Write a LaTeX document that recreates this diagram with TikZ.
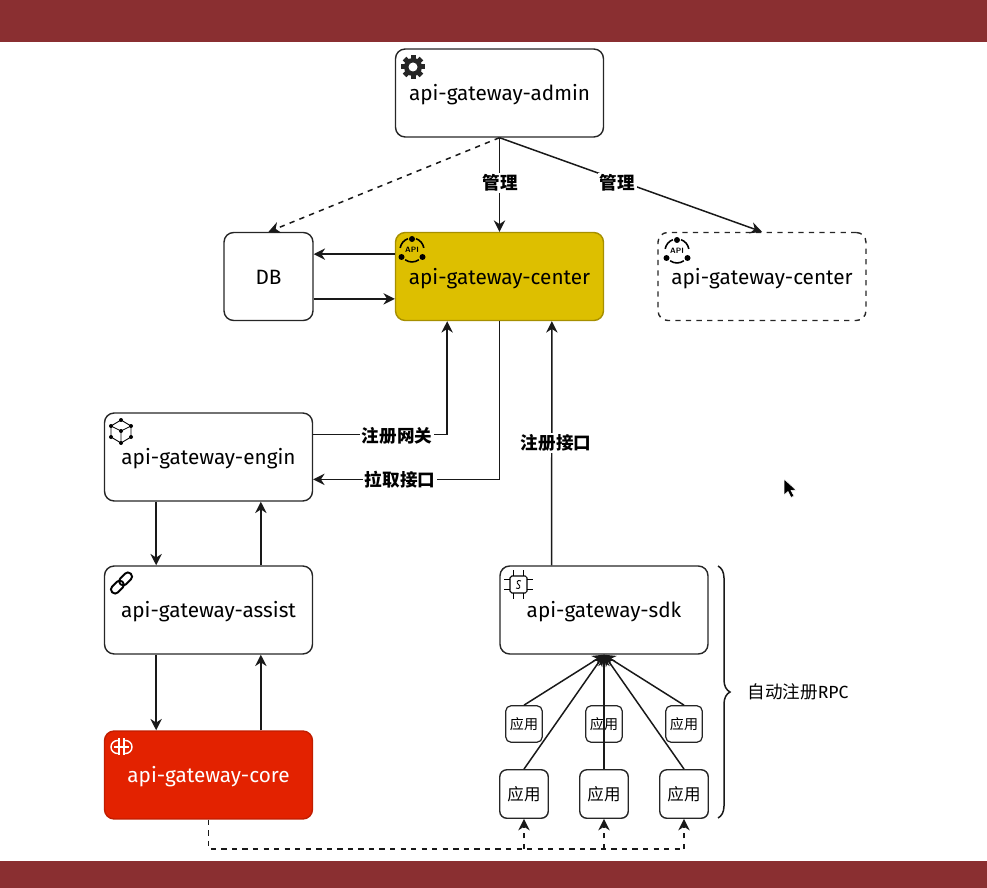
\documentclass[tikz,border=0pt]{standalone}
\usepackage{fontspec}
\usepackage{amsmath}
\setmainfont{Fira Sans}
\newfontfamily\cjk{Noto Sans CJK SC}
\usetikzlibrary{arrows.meta,calc,decorations.pathreplacing}

\definecolor{barred}{HTML}{8A2F31}
\definecolor{centeryellow}{HTML}{DDBF00}
\definecolor{coreorange}{HTML}{E32200}

\tikzset{
  box/.style={draw=black!85, line width=0.8pt, rounded corners=5.5pt, minimum width=4.16cm, minimum height=1.76cm, inner sep=0pt, text height=12pt, text depth=3pt, font=\fontsize{11.8}{13}\selectfont},
  dbbox/.style={box, minimum width=1.78cm},
  smallapp/.style={draw=black!85, line width=0.7pt, rounded corners=3pt, minimum width=0.73cm, minimum height=0.73cm, inner sep=0pt, font=\cjk\fontsize{8}{9}\selectfont},
  largeapp/.style={draw=black!85, line width=0.8pt, rounded corners=4pt, minimum width=0.97cm, minimum height=0.97cm, inner sep=0pt, font=\cjk\fontsize{9.4}{10}\selectfont},
  edgelabel/.style={fill=white, inner sep=1pt, font=\cjk\bfseries\fontsize{10}{11}\selectfont},
  link/.style={line width=0.85pt, draw=black!90},
  apiicon/.pic={
    \fill (0,-11) circle (3);
    \fill (-10.5,7) circle (3);
    \fill (10.5,7) circle (3);
    \draw[line width=0.9pt] (-4.1,-11.3) arc (250:190:12);
    \draw[line width=0.9pt] (4.1,-11.3) arc (290:350:12);
    \draw[line width=0.9pt] (-6.9,9.8) arc (125:55:12);
    \node[inner sep=0pt, font=\sffamily\bfseries\fontsize{4.4}{5}\selectfont] (apitext) at (0,0) {API};
  }
}

\begin{document}
\begin{tikzpicture}[x=0.02cm, y=-0.02cm, >={Stealth[length=6.5pt,width=6.5pt]}]
  \useasboundingbox (0,0) rectangle (987,888);

  % the two bars
  \fill[barred] (0,0) rectangle (987,42);
  \fill[barred] (0,861) rectangle (987,888);

  % the boxes
  \node[box] (admin) at (499.5,93) {api-gateway-admin};
  \node[dbbox] (db) at (268.5,276.5) {DB};
  \node[box, fill=centeryellow, draw=centeryellow!75!black] (center) at (499.5,276.5) {api-gateway-center};
  \node[box, dashed] (centerb) at (762,276.5) {api-gateway-center};
  \node[box] (engin) at (208.5,457) {api-gateway-engin};
  \node[box] (assist) at (208.5,610) {api-gateway-assist};
  \node[box, fill=coreorange, draw=coreorange!85!black, text=white] (core) at (208.5,775) {api-gateway-core};
  \node[box] (sdk) at (604,610) {api-gateway-sdk};

  % the applications
  \node[smallapp] (appa) at (524,724) {应用};
  \node[smallapp] (appb) at (604,724) {应用};
  \node[smallapp] (appc) at (684,724) {应用};
  \node[largeapp] (appd) at (524,794) {应用};
  \node[largeapp] (appe) at (604,794) {应用};
  \node[largeapp] (appf) at (684,794) {应用};

  % draw the arrows
  \draw[->, link, dashed] (admin.south) -- (db.north);
  \draw[->, link] (admin.south) -- (center.north);
  \draw[->, link] (admin.south) -- (centerb.north);
  \draw[->, link] ($(center.north west)!0.25!(center.south west)$) -- ($(db.north east)!0.25!(db.south east)$);
  \draw[->, link] ($(db.north east)!0.75!(db.south east)$) -- ($(center.north west)!0.75!(center.south west)$);
  \draw[->, link] ($(engin.north east)!0.25!(engin.south east)$) -| ($(center.south west)!0.25!(center.south east)$);
  \draw[->, link] (center.south) |- ($(engin.north east)!0.75!(engin.south east)$);
  \draw[->, link] ($(sdk.north west)!0.25!(sdk.north east)$) -- ($(center.south west)!0.75!(center.south east)$);
  \draw[->, link] ($(engin.south west)!0.25!(engin.south east)$) -- ($(assist.north west)!0.25!(assist.north east)$);
  \draw[->, link] ($(assist.north west)!0.75!(assist.north east)$) -- ($(engin.south west)!0.75!(engin.south east)$);
  \draw[->, link] ($(assist.south west)!0.25!(assist.south east)$) -- ($(core.north west)!0.25!(core.north east)$);
  \draw[->, link] ($(core.north west)!0.75!(core.north east)$) -- ($(assist.south west)!0.75!(assist.south east)$);
  \draw[->, link] (appa.north) -- (sdk.south);
  \draw[->, link] (appc.north) -- (sdk.south);
  \draw[->, link] (appd.north) -- (sdk.south);
  \draw[->, link] (appe.north) -- (sdk.south);
  \draw[->, link] (appf.north) -- (sdk.south);

  % the dashed line under the applications
  \coordinate (busd) at (524,849);
  \coordinate (buse) at (604,849);
  \coordinate (busf) at (684,849);
  \draw[link, dashed] (core.south) |- (busf);
  \draw[->, link, dashed] (busd) -- (appd.south);
  \draw[->, link, dashed] (buse) -- (appe.south);
  \draw[->, link, dashed] (busf) -- (appf.south);

  % the labels on the arrows
  \node[edgelabel] (manage) at (500.5,183) {管理};
  \node[edgelabel] (manageb) at (617.5,183) {管理};
  \node[edgelabel] (regengin) at (397,436) {注册网关};
  \node[edgelabel] (pull) at (400,480) {拉取接口};
  \node[edgelabel] (regsdk) at (556,443) {注册接口};

  % the brace
  \coordinate (bracetop) at (718,566);
  \coordinate (bracebot) at (718,818);
  \draw[link, decorate, decoration={brace, amplitude=0.24cm}] (bracetop) -- (bracebot);
  \node[font=\cjk\fontsize{10}{11}\selectfont] (autoreg) at (798,692) {自动注册{\rmfamily RPC}};

  % the icons
  % gear
  \foreach \a in {0,45,...,135} {
    \fill[black!85, rotate around={\a:(413,67)}] (410.5,55) rectangle (415.5,79);
  }
  \fill[black!85] (413,67) circle (9);
  \fill[white] (413,67) circle (4.5);
  % api
  \pic at (412,250) {apiicon};
  \pic at (677,251) {apiicon};
  % cube
  \draw[line width=0.5pt] (121,420) -- (131,426) -- (131,437) -- (121,443) -- (111,437) -- (111,426) -- cycle;
  \draw[line width=0.5pt] (111,426) -- (121,431) -- (131,426) (121,431) -- (121,443);
  \foreach \ix/\iy in {121/420,131/426,131/437,121/443,111/437,111/426,121/431} {
    \fill (\ix,\iy) circle (2);
  }
  % link
  \draw[line width=1.1pt, rounded corners=2pt, rotate around={45:(121.5,583)}] (108.5,579) rectangle (123,587);
  \draw[line width=1.1pt, rounded corners=2pt, rotate around={45:(121.5,583)}] (120,579) rectangle (134.5,587);
  % core
  \draw[white, line width=0.8pt] (119,740.5) -- (117.5,740.5) arc (270:90:6.5) -- (119,753.5);
  \draw[white, line width=0.8pt] (124,740.5) -- (125.5,740.5) arc (-90:90:6.5) -- (124,753.5);
  \draw[white, line width=0.8pt] (119,738) -- (119,755) (124,738) -- (124,755) (114,747) -- (129,747);
  % chip
  \draw[line width=0.6pt, rounded corners=1pt] (510,576) rectangle (527,593);
  \foreach \p in {-5,5} {
    \draw[line width=0.5pt] (518.5+\p,570) -- (518.5+\p,576) (518.5+\p,593) -- (518.5+\p,599);
    \draw[line width=0.5pt] (504,584.5+\p) -- (510,584.5+\p) (527,584.5+\p) -- (533,584.5+\p);
  }
  \draw[line width=0.5pt] (521,581) .. controls (517,579) and (516,583) .. (518.5,584.5) .. controls (521,586) and (520,590) .. (516,588);

  % the mouse pointer
  \fill[black, draw=white, line width=0.3pt] (784,479) -- (784,495) -- (788,491.5) -- (791,497.5) -- (794,496) -- (791,490.5) -- (796,490) -- cycle;
\end{tikzpicture}
\end{document}
